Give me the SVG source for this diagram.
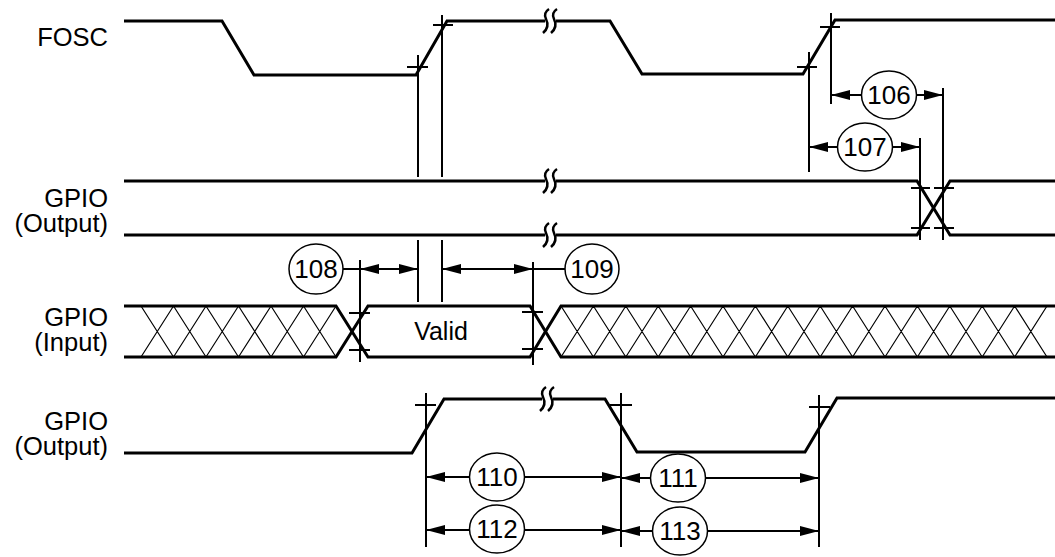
<svg xmlns="http://www.w3.org/2000/svg" width="1055" height="557" viewBox="0 0 1055 557">
<style>
.sig{fill:none;stroke:#000;stroke-width:3;stroke-linejoin:miter}
.thin{fill:none;stroke:#000;stroke-width:2}
.hatch{fill:none;stroke:#000;stroke-width:1.2}
.brk{fill:none;stroke:#000;stroke-width:2.5}
.lbl{font-family:"Liberation Sans",Arial,sans-serif;font-size:25.5px;fill:#000;text-anchor:end}
.num{font-family:"Liberation Sans",Arial,sans-serif;font-size:26px;fill:#000;text-anchor:middle}
.cir{fill:#fff;stroke:#000;stroke-width:1.5}
.arr{fill:none;stroke:#000;stroke-width:2;marker-end:url(#ah)}
.arr2{fill:none;stroke:#000;stroke-width:2;marker-start:url(#ah);marker-end:url(#ah)}
</style>
<defs>
<marker id="ah" viewBox="0 0 19 10" refX="19" refY="5" markerWidth="19" markerHeight="10" orient="auto-start-reverse" markerUnits="userSpaceOnUse"><path d="M0,0 L19,5 L0,10 Z" fill="#000"/></marker>
</defs>
<rect width="1055" height="557" fill="#fff"/>
<g id="labels">
<text class="lbl" x="108" y="46">FOSC</text>
<text class="lbl" x="108" y="207">GPIO</text>
<text class="lbl" x="108" y="232">(Output)</text>
<text class="lbl" x="108" y="326">GPIO</text>
<text class="lbl" x="108" y="351">(Input)</text>
<text class="lbl" x="108" y="430">GPIO</text>
<text class="lbl" x="108" y="455">(Output)</text>
</g>
<g id="fosc">
<path class="sig" d="M124,21 H222 L254,75 H416 L447,21 H545"/>
<path class="sig" d="M556,21 H610 L642,74 H803 L835,20 H1055"/>
<path class="brk" d="M549,9 Q543,13 546,19 Q550,27 543,33 M557,9 Q551,13 554,19 Q558,27 551,33"/>
</g>
<g id="gpio-out1">
<path class="sig" d="M124,181 H545 M556,181 H917 L950,235 H1055"/>
<path class="sig" d="M124,235 H545 M556,235 H917 L950,181 H1055"/>
<path class="brk" d="M549,169 Q543,173 546,179 Q550,187 543,193 M557,169 Q551,173 554,179 Q558,187 551,193"/>
<path class="brk" d="M549,223 Q543,227 546,233 Q550,241 543,247 M557,223 Q551,227 554,233 Q558,241 551,247"/>
</g>
<g id="gpio-in">
<path class="sig" d="M124,306 H336 L368,357 H530 L561,306 H1055"/>
<path class="sig" d="M124,357 H336 L368,306 H530 L561,357 H1055"/>
<path class="hatch" d="M141,306 L173.5,357 L206,306 L238.5,357 L271,306 L303.5,357 L336,306 M141,357 L173.5,306 L206,357 L238.5,306 L271,357 L303.5,306 L336,357"/>
<path class="hatch" d="M561,306 L593.4,357 L625.8,306 L658.2,357 L690.6,306 L723,357 L755.4,306 L787.8,357 L820.2,306 L852.6,357 L885,306 L917.4,357 L949.8,306 L982.2,357 L1014.6,306 L1047,357 M561,357 L593.4,306 L625.8,357 L658.2,306 L690.6,357 L723,306 L755.4,357 L787.8,306 L820.2,357 L852.6,306 L885,357 L917.4,306 L949.8,357 L982.2,306 L1014.6,357 L1047,306"/>
<text class="num" x="441" y="340" style="font-size:25px">Valid</text>
</g>
<g id="gpio-out2">
<path class="sig" d="M124,453 H412 L444,399 H542 M553,399 H605 L637,452 H805 L837,398 H1055"/>
<path class="brk" d="M546,387 Q540,391 543,397 Q547,405 540,411 M554,387 Q548,391 551,397 Q555,405 548,411"/>
</g>
<g id="connectors">
<path class="thin" d="M407,67 H428 M418,55 V177 M433,25 H453 M442,15 V177 M797,67 H817 M809,52 V172 M820,27 H840 M831,13 V104"/>
<path class="thin" d="M418,240 V302 M442,240 V302"/>
<path class="thin" d="M360,260 V362 M349,313 H370 M349,350 H370 M533,262 V365 M522,312 H543 M522,349 H543"/>
<path class="thin" d="M920,138 V240 M943,88 V240 M911,188 H930 M934,188 H954 M911,228 H930 M934,228 H954"/>
<path class="thin" d="M426,393 V547 M415,405 H436 M621,393 V547 M610,405 H632 M819,395 V547 M809,407 H830"/>
<path class="arr" d="M862,95 H831"/>
<path class="arr" d="M916,95 H943"/>
<path class="arr" d="M838,147 H809"/>
<path class="arr" d="M892,147 H920"/>
<path class="thin" d="M342,269 H360"/>
<path class="arr2" d="M360,269 H418"/>
<path class="arr2" d="M442,269 H533"/>
<path class="thin" d="M533,269 H566"/>
<path class="arr" d="M470,477 H426"/>
<path class="arr" d="M524,477 H621"/>
<path class="arr" d="M651,478 H621"/>
<path class="arr" d="M705,478 H819"/>
<path class="arr" d="M470,530 H426"/>
<path class="arr" d="M524,530 H621"/>
<path class="arr" d="M653,531 H621"/>
<path class="arr" d="M707,531 H819"/>
</g>
<g id="n106"><ellipse class="cir" cx="889" cy="95" rx="27.5" ry="24"/><text class="num" x="889" y="104.3">106</text></g>
<g id="n107"><ellipse class="cir" cx="865" cy="147" rx="27.5" ry="24"/><text class="num" x="865" y="156.3">107</text></g>
<g id="n108"><ellipse class="cir" cx="316" cy="269" rx="27" ry="25"/><text class="num" x="316" y="278.3">108</text></g>
<g id="n109"><ellipse class="cir" cx="592" cy="269" rx="27" ry="25"/><text class="num" x="592" y="278.3">109</text></g>
<g id="n110"><ellipse class="cir" cx="497" cy="477" rx="27.5" ry="24"/><text class="num" x="497" y="486.3">110</text></g>
<g id="n111"><ellipse class="cir" cx="678" cy="478" rx="27.5" ry="24"/><text class="num" x="678" y="487.3">111</text></g>
<g id="n112"><ellipse class="cir" cx="497" cy="529" rx="27.5" ry="24"/><text class="num" x="497" y="538.3">112</text></g>
<g id="n113"><ellipse class="cir" cx="680" cy="531" rx="27.5" ry="24"/><text class="num" x="680" y="540.3">113</text></g>
</svg>
